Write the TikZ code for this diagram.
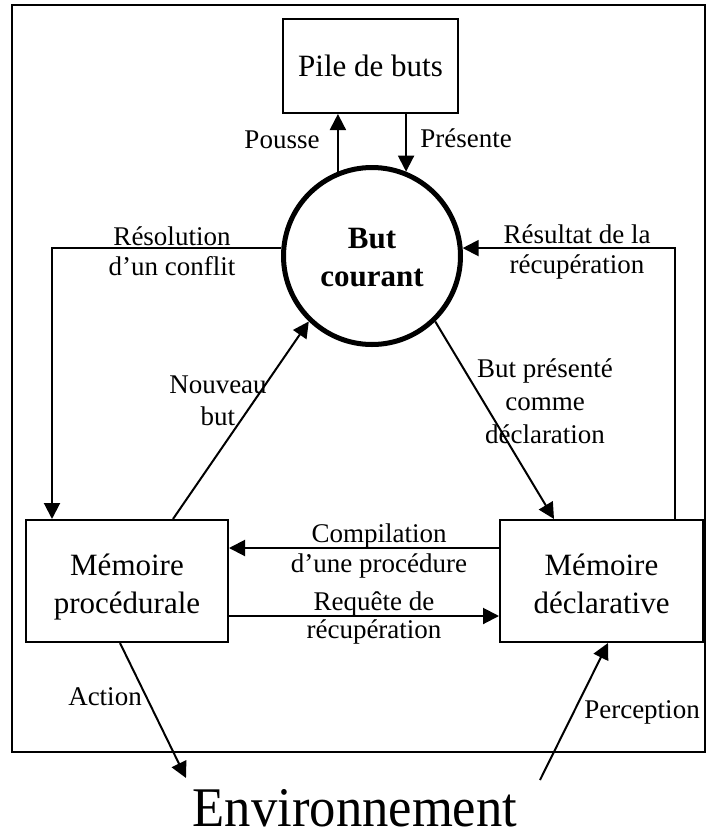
\documentclass[tikz,border=0pt]{standalone}
\usepackage{fontspec}
\setmainfont{Liberation Serif}
\usetikzlibrary{arrows.meta,calc}
\begin{document}
\begin{tikzpicture}[x=0.5pt,y=-0.5pt,
  wire/.style={line width=1pt},
  arr/.style={wire,-{Triangle[length=8pt,width=8pt]}},
  box/.style={draw,line width=1pt,inner sep=0pt,align=center,
    font=\fontsize{15.5}{19}\selectfont},
  lbl/.style={inner sep=0pt,align=center,anchor=base,
    font=\fontsize{13.5}{15}\selectfont},
]
\useasboundingbox (0,0) rectangle (707,831);
% outer frame of the cognitive system
\draw[line width=1.2pt] (12,5) rectangle (705,752);

% modules
\node[box,minimum width=87.5pt,minimum height=47pt] (pile) at (370.5,66) {Pile de buts};
\node[draw,circle,line width=2.5pt,minimum size=88.5pt,inner sep=0pt,align=center,
  text height=30pt,text depth=0pt,
  font=\fontsize{15.5}{19}\selectfont\bfseries] (circ) at (372,256) {But\\courant};
\node[box,minimum width=101pt,minimum height=61pt,text height=32pt,text depth=0pt]
  (proc) at (127,581) {Mémoire\\procédurale};
\node[box,minimum width=101.5pt,minimum height=61pt,text height=32pt,text depth=0pt]
  (decl) at (601.5,581) {Mémoire\\déclarative};
\node[inner sep=0pt,anchor=base,font=\fontsize{28}{32}\selectfont]
  (env) at (355,826) {\scalebox{0.94}[1]{Environnement}};

% goal stack exchanges
\draw[arr] (circ.112.6) -- (circ.112.6 |- pile.south);
\draw[arr] (pile.south -| circ.68.7) -- (circ.68.7);

% conflict resolution and retrieval result
\coordinate (rbend) at (52,249);
\draw[arr] (circ.175.6) -| (rbend |- proc.north);
\coordinate (rrise) at (675,248);
\draw[arr] (rrise |- decl.north) |- (circ.5);

% diagonal links
\draw[arr] ($(proc.north)+(46,0)$) -- (circ.226);
\draw[arr] (circ.314) -- ($(decl.north)+(-47.5,0)$);

% links between the two memories
\draw[arr] ($(decl.west)+(0,-33)$) -- ($(proc.east)+(0,-33)$);
\draw[arr] ($(proc.east)+(0,35)$) -- ($(decl.west)+(0,35)$);

% links with the environment
\coordinate (actend) at (186,778);
\coordinate (perstart) at (540,780);
\draw[arr] ($(proc.south)+(-7,0)$) -- (actend);
\draw[arr] (perstart) -- ($(decl.south)+(6.5,0)$);

% connector labels (base = baseline of the last line)
\node[lbl] (lpousse) at (282,148) {Pousse};
\node[lbl] (lpresente) at (466,147) {Présente};
\node[lbl] (lresol) at (172,275) {Résolution\\d’un conflit};
\node[lbl] (lresult) at (577,273) {Résultat de la\\récupération};
\node[lbl,font=\fontsize{13.5}{16}\selectfont] (lnouveau) at (218,425) {Nouveau\\but};
\node[lbl,font=\fontsize{13.5}{16.5}\selectfont] (lbutpres) at (545,443) {But présenté\\comme\\déclaration};
\node[lbl] (lcompil) at (379,572) {Compilation\\d’une procédure};
\node[lbl,font=\fontsize{13.5}{14}\selectfont] (lrequete) at (374,638) {Requête de\\récupération};
\node[lbl] (laction) at (105,705) {Action};
\node[lbl] (lpercep) at (642,718) {Perception};
\end{tikzpicture}
\end{document}
